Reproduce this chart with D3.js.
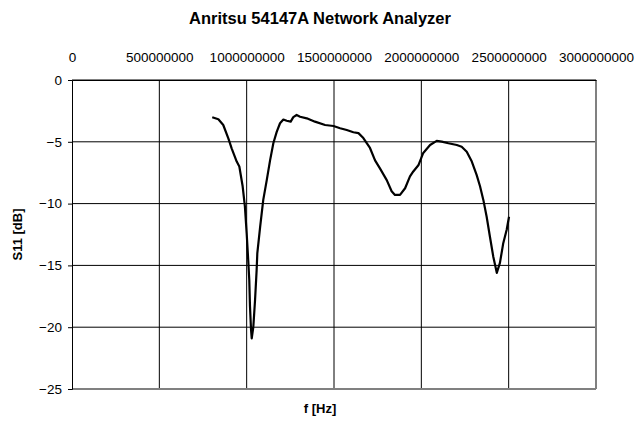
<!DOCTYPE html>
<html>
<head>
<meta charset="utf-8">
<script src="https://cdn.jsdelivr.net/npm/d3@7"></script>
<style>
  body { margin: 0; background: #fff; }
  text { font-family: "Liberation Sans", Arial, sans-serif; fill: #000; }
</style>
</head>
<body>
<svg id="chart" width="635" height="421"></svg>
<script>
// frequency in MHz
var freq = [803, 838, 866, 895, 914, 943, 958, 977, 990, 1000, 1009, 1015, 1019, 1025, 1029,
  1038, 1048, 1057, 1061, 1077, 1095, 1115, 1134, 1153, 1172, 1191, 1210, 1229, 1252, 1267,
  1286, 1306, 1344, 1391, 1449, 1497, 1535, 1573, 1611, 1640, 1668, 1706, 1735, 1763, 1802,
  1830, 1849, 1878, 1907, 1935, 1954, 1983, 2011, 2050, 2088, 2117, 2155, 2203, 2231, 2260,
  2289, 2317, 2336, 2355, 2374, 2393, 2412, 2432, 2450, 2469, 2489, 2502];
var s11 = [-3.02, -3.18, -3.64, -4.72, -5.53, -6.6, -7.0, -8.6, -10.25, -12.4, -14.6, -16.2, -18.3, -20.2, -20.9,
  -20.0, -17.8, -15.4, -14.0, -11.9, -9.7, -8.1, -6.5, -5.1, -4.2, -3.5, -3.2, -3.3, -3.37, -3.0,
  -2.83, -2.97, -3.1, -3.37, -3.64, -3.72, -3.9, -4.05, -4.23, -4.3, -4.7, -5.5, -6.5, -7.15, -8.1,
  -9.0, -9.3, -9.3, -8.76, -7.8, -7.4, -6.9, -5.9, -5.26, -4.93, -4.99, -5.12, -5.26, -5.4, -5.8,
  -6.6, -7.7, -8.6, -9.7, -11.06, -12.7, -14.3, -15.6, -14.8, -13.2, -12.1, -11.06];
var xTicks = [0, 500000000, 1000000000, 1500000000, 2000000000, 2500000000, 3000000000];
var yTicks = [0, -5, -10, -15, -20, -25];

var svg = d3.select("#chart");
var plotLeft = 72, plotRight = 596, plotTop = 80, plotBottom = 389;

var x = d3.scaleLinear().domain([0, 3000000000]).range([plotLeft, plotRight]);
var y = d3.scaleLinear().domain([-25, 0]).range([plotBottom, plotTop]);

// grid
svg.append("g").selectAll("line")
  .data(xTicks.slice(1, -1))
  .enter().append("line")
  .attr("x1", function(d) { return x(d); }).attr("x2", function(d) { return x(d); })
  .attr("y1", plotTop).attr("y2", plotBottom)
  .attr("stroke", "#000").attr("stroke-width", 1);
svg.append("g").selectAll("line")
  .data(yTicks.slice(0, -1))
  .enter().append("line")
  .attr("x1", plotLeft).attr("x2", plotRight)
  .attr("y1", function(d) { return y(d); }).attr("y2", function(d) { return y(d); })
  .attr("stroke", "#000").attr("stroke-width", 1);

// frame bits
svg.append("line").attr("x1", plotRight).attr("x2", plotRight).attr("y1", plotTop).attr("y2", plotBottom)
  .attr("stroke", "#808080").attr("stroke-width", 2);
svg.append("line").attr("x1", plotLeft).attr("x2", plotRight).attr("y1", plotBottom).attr("y2", plotBottom)
  .attr("stroke", "#808080").attr("stroke-width", 2);

// axes
var yAxis = d3.axisLeft(y).tickValues(yTicks).tickSize(4).tickPadding(6);
var gy = svg.append("g").attr("transform", "translate(" + plotLeft + ",0)").call(yAxis);
gy.select(".domain").attr("stroke", "#000");
gy.selectAll("text").style("font-size", "13.5px").attr("font-family", null);

var xAxis = d3.axisTop(x).tickValues(xTicks).tickSize(0).tickPadding(18).tickFormat(d3.format("d"));
var gx = svg.append("g").attr("transform", "translate(0," + plotTop + ")").call(xAxis);
gx.select(".domain").attr("stroke", "#000");
gx.selectAll("text").style("font-size", "13.5px").attr("font-family", null);

// curve
var line = d3.line()
  .x(function(d, i) { return x(freq[i] * 1e6); })
  .y(function(d) { return y(d); });
svg.append("path")
  .datum(s11)
  .attr("d", line)
  .attr("fill", "none")
  .attr("stroke", "#000")
  .attr("stroke-width", 2.2)
  .attr("stroke-linejoin", "round");

// titles
svg.append("text").attr("x", 320).attr("y", 24).attr("text-anchor", "middle")
  .style("font-size", "16.5px").style("font-weight", "bold").text("Anritsu 54147A Network Analyzer");
svg.append("text").attr("x", 320).attr("y", 413).attr("text-anchor", "middle")
  .style("font-size", "13px").style("font-weight", "bold").text("f [Hz]");
svg.append("text").attr("transform", "translate(22," + ((plotTop + plotBottom) / 2) + ") rotate(-90)")
  .attr("text-anchor", "middle")
  .style("font-size", "13px").style("font-weight", "bold").text("S11 [dB]");
</script>
</body>
</html>
